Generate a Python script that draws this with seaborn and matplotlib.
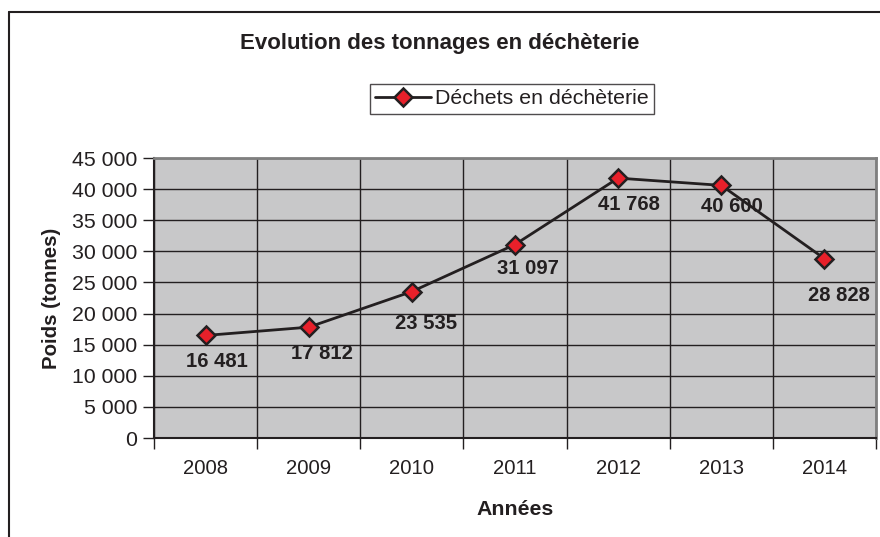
import matplotlib
matplotlib.use("Agg")
import matplotlib.pyplot as plt
from matplotlib.lines import Line2D
from matplotlib.ticker import FuncFormatter, MultipleLocator, FixedLocator
import seaborn as sns
import pandas as pd

years = [2008, 2009, 2010, 2011, 2012, 2013, 2014]
tonnages = [16481, 17812, 23535, 31097, 41768, 40600, 28828]
series_name = "Déchets en déchèterie"
title = "Evolution des tonnages en déchèterie"
xlabel = "Années"
ylabel = "Poids (tonnes)"

# label offsets in pixels (dx, dy) relative to each point
label_offsets = [(11, -26), (13, -26), (14, -32), (13, -24), (11, -26), (11, -21), (15, -37)]

sns.set_theme(style="white")
plt.rcParams['font.family'] = ['Liberation Sans', 'DejaVu Sans']

df = pd.DataFrame({"year": years, "tonnes": tonnages})

fig = plt.figure(figsize=(8.8, 5.37), dpi=100)
ax = fig.add_axes([154/880, 1-438/537, (876-154)/880, (438-158)/537])
ax.set_facecolor("#c8c8c9")

sns.lineplot(data=df, x="year", y="tonnes", ax=ax, color="#231f20", linewidth=2,
             marker="D", markersize=9, markerfacecolor="#e8202a",
             markeredgecolor="#231f20", markeredgewidth=1.8, label=series_name,
             zorder=5)

ax.set_xlim(years[0]-0.5, years[-1]+0.5)
ax.set_ylim(0, 45000)
ax.yaxis.set_major_locator(MultipleLocator(5000))
ax.yaxis.set_major_formatter(FuncFormatter(lambda v, p: f"{int(v):,}".replace(",", " ")))
ax.xaxis.set_major_locator(FixedLocator(years))
ax.set_xticklabels([str(y) for y in years])
ax.xaxis.set_minor_locator(FixedLocator([y + 0.5 for y in [years[0]-1] + years]))

ax.grid(False)
ax.grid(axis="y", which="major", color="#231f20", linewidth=1)
ax.grid(axis="x", which="minor", color="#231f20", linewidth=1)
ax.set_axisbelow(True)

ax.tick_params(axis="x", which="major", length=0, pad=15, labelsize=14.6, colors="#231f20")
ax.tick_params(axis="x", which="minor", length=8, width=1, direction="out", color="#231f20", bottom=True)
ax.tick_params(axis="y", which="major", length=8, width=1, direction="out", color="#231f20",
               left=True, labelsize=15.3, labelcolor="#231f20", pad=4)

for side in ["left", "bottom"]:
    ax.spines[side].set_color("#231f20")
    ax.spines[side].set_linewidth(1.5)
for side in ["top", "right"]:
    ax.spines[side].set_color("#7f7f7f")
    ax.spines[side].set_linewidth(2)

ax.set_xlabel(xlabel, fontsize=15.3, fontweight="bold", color="#231f20", labelpad=16)
ax.set_ylabel(ylabel, fontsize=14.7, fontweight="bold", color="#231f20", labelpad=8)

for (x, y), (dx, dy) in zip(zip(years, tonnages), label_offsets):
    ax.annotate(f"{y:,}".replace(",", " "), (x, y), xytext=(dx, dy), textcoords="offset pixels",
                ha="center", va="center", fontsize=14.6, fontweight="bold", color="#231f20",
                zorder=6)

ax.legend_.remove()
handle = Line2D([0], [0], color="#231f20", linewidth=2, marker="D", markersize=9,
                markerfacecolor="#e8202a", markeredgecolor="#231f20", markeredgewidth=1.8)
leg = fig.legend([handle], [series_name], loc="center", bbox_to_anchor=(512/880, 1-99/537),
                 frameon=True, fancybox=False, fontsize=15.4, handlelength=2.6,
                 borderpad=0.25, handletextpad=0.2, borderaxespad=0)
leg.get_frame().set_edgecolor("#231f20")
leg.get_frame().set_linewidth(1)
for t in leg.get_texts():
    t.set_color("#231f20")

fig.text(440/880, 1-44/537, title, ha="center", va="center", fontsize=16,
         fontweight="bold", color="#231f20")

# outer chart frame (cropped at right and bottom)
fig.add_artist(Line2D([9/880, 9/880], [0, 1-12/537], color="#231f20", linewidth=1.5,
                      transform=fig.transFigure))
fig.add_artist(Line2D([9/880, 1], [1-12/537, 1-12/537], color="#231f20", linewidth=1.5,
                      transform=fig.transFigure))

fig.savefig("out.png", dpi=100, facecolor="white")
